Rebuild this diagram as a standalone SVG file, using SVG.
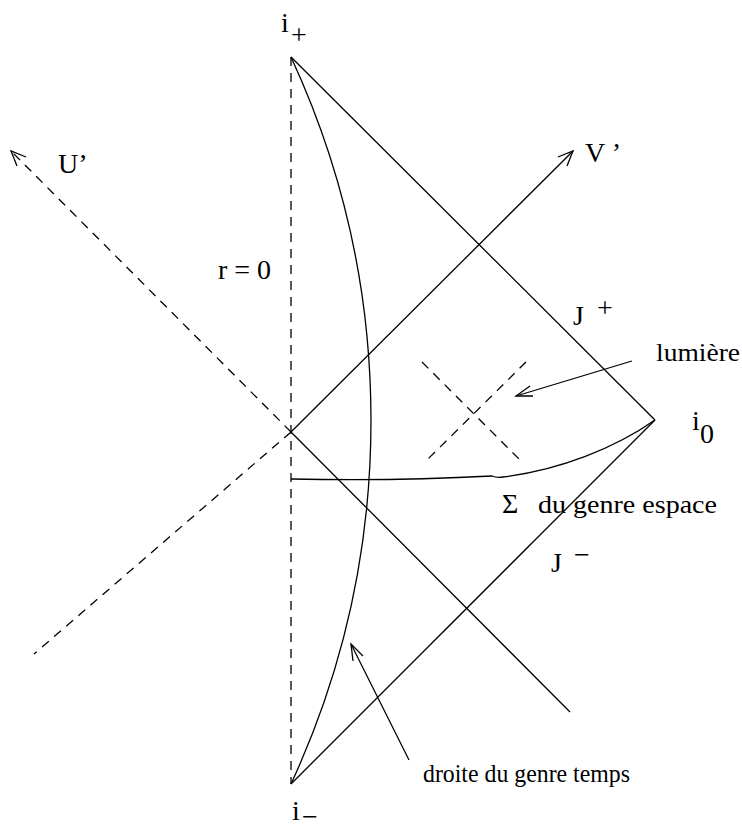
<svg xmlns="http://www.w3.org/2000/svg" width="742" height="834" viewBox="0 0 742 834">
<style>
.l{fill:none;stroke:#000;stroke-width:1.3}
.d{fill:none;stroke:#000;stroke-width:1.3;stroke-dasharray:9 7}
.t{font-family:"Liberation Serif","Times New Roman",serif;font-size:28px;fill:#000}
.s{font-family:"Liberation Serif","Times New Roman",serif;font-size:25px;fill:#000}
</style>
<rect width="742" height="834" fill="#fff"/>
<g id="connectors">
<line class="d" x1="291" y1="57" x2="291" y2="784"/>
<line class="l" x1="291" y1="57" x2="655" y2="420"/>
<line class="l" x1="655" y1="420" x2="291" y2="784"/>
<line class="l" x1="291" y1="432" x2="573" y2="151"/>
<polyline class="l" points="558,157 573,151 567,166"/>
<line class="d" x1="291" y1="432" x2="34" y2="654"/>
<line class="d" x1="291" y1="432" x2="11" y2="151"/>
<polyline class="l" points="17,166 11,151 26,157"/>
<line class="l" x1="291" y1="432" x2="570" y2="712"/>
<line class="d" x1="422" y1="362" x2="520" y2="460"/>
<line class="d" x1="526" y1="362" x2="427" y2="460"/>
<path class="l" d="M291,479 C380,481 455,478 492,476 Q497,478 503,477 C560,470 615,448 655,420"/>
<path class="l" d="M291,57 A866,866 0 0,1 291,784"/>
<line class="l" x1="632" y1="361" x2="516" y2="396"/>
<polyline class="l" points="530,386 516,396 533,396"/>
<line class="l" x1="409" y1="760" x2="351" y2="644"/>
<polyline class="l" points="353,661 351,644 363,656"/>
</g>
<g id="i-plus"><text class="t" x="281" y="32">i</text><text class="t" x="291" y="44">+</text></g>
<g id="i-minus"><text class="t" x="292" y="820">i</text><text class="t" x="302" y="826">−</text></g>
<g id="i-zero"><text class="t" x="692" y="430">i</text><text class="t" x="700" y="443">0</text></g>
<g id="U"><text class="t" x="58" y="173">U’</text></g>
<g id="V"><text class="t" x="585" y="162">V ’</text></g>
<g id="r0"><text class="t" x="218" y="279">r = 0</text></g>
<g id="Jplus"><text class="t" x="573" y="325">J</text><text class="t" x="597" y="317">+</text></g>
<g id="Jminus"><text class="t" x="551" y="572">J</text><text class="t" x="574" y="564">−</text></g>
<g id="lumiere"><text class="s" x="656" y="361" textLength="84" lengthAdjust="spacingAndGlyphs">lumière</text></g>
<g id="sigma"><text class="t" x="502" y="513">Σ</text><text class="s" x="538" y="513" textLength="179" lengthAdjust="spacingAndGlyphs">du genre espace</text></g>
<g id="droite"><text class="s" x="423" y="782" textLength="207" lengthAdjust="spacingAndGlyphs">droite du genre temps</text></g>
</svg>
